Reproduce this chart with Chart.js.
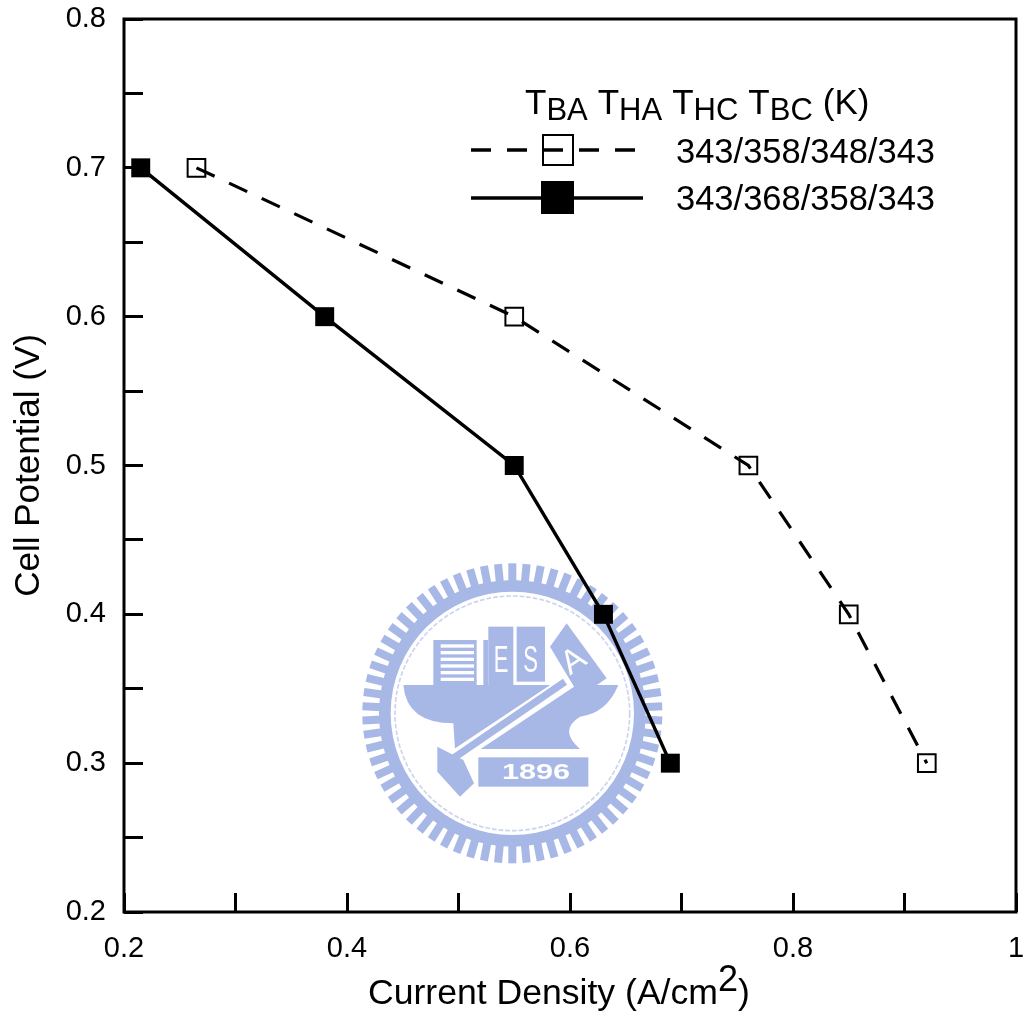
<!DOCTYPE html>
<html>
<head>
<meta charset="utf-8">
<style>
  html, body { margin: 0; padding: 0; background: #fff; }
  canvas { display: block; }
</style>
<script src="https://cdn.jsdelivr.net/npm/chart.js@4/dist/chart.umd.min.js"></script>
</head>
<body>
<canvas id="chart" width="1023" height="1014"></canvas>
<script>
// values
var openX = [0.265, 0.55, 0.76, 0.85, 0.92];
var openY = [0.7, 0.6, 0.5, 0.4, 0.3];
var filledX = [0.215, 0.38, 0.55, 0.63, 0.69];
var filledY = [0.7, 0.6, 0.5, 0.4, 0.3];
var openLabel = '343/358/348/343';
var filledLabel = '343/368/358/343';
var yTitle = 'Cell Potential (V)';

var FONT = '"Liberation Sans", Arial, sans-serif';
var BLUE = '#a8b8e6';
var PLOT_RIGHT = 1016;

function pairs(xs, ys) {
  return xs.map(function(x, i) { return { x: x, y: ys[i] }; });
}

// pieces of text on one baseline; dy shifts sub/superscripts
function drawRuns(ctx, x, y, runs) {
  ctx.textAlign = 'left';
  ctx.textBaseline = 'alphabetic';
  runs.forEach(function(r) {
    ctx.font = r.size + 'px ' + FONT;
    ctx.fillText(r.text, x, y + (r.dy || 0));
    x += ctx.measureText(r.text).width + (r.gap || 0);
  });
}

// text squeezed or stretched sideways, for the seal lettering
function wideText(ctx, text, x, y, sx) {
  ctx.save();
  ctx.translate(x, y);
  ctx.scale(sx, 1);
  ctx.fillText(text, 0, 0);
  ctx.restore();
}

// no label overhang: the plot box is placed by hand
function noPadding() {
  return { left: 0, top: 0, right: 0, bottom: 0 };
}

// layout keeps a margin on the right for the "1" label; the reference runs closer to the edge
var stretchRight = {
  id: 'stretchRight',
  afterLayout: function(chart) {
    var x = chart.scales.x;
    chart.chartArea.right = PLOT_RIGHT;
    chart.chartArea.width = PLOT_RIGHT - chart.chartArea.left;
    x.right = PLOT_RIGHT;
    x.width = PLOT_RIGHT - x.left;
    x.configure();
  }
};

// the faint seal behind the curves, drawn in its own 3x coordinates
var seal = {
  id: 'seal',
  beforeDatasetsDraw: function(chart) {
    var c = chart.ctx, i, a;
    c.save();
    c.translate(350, 550);
    c.scale(1 / 3, 1 / 3);
    c.fillStyle = BLUE;
    c.strokeStyle = BLUE;
    // teeth
    for (i = 0; i < 66; i++) {
      a = i * Math.PI * 2 / 66;
      c.save();
      c.translate(487, 490);
      c.rotate(a);
      c.fillRect(-12, -450, 24, 60);
      c.restore();
    }
    c.beginPath(); c.arc(487, 490, 400, 0, Math.PI * 2); c.fill();
    c.fillStyle = '#fff';
    c.beginPath(); c.arc(487, 490, 365, 0, Math.PI * 2); c.fill();
    c.lineWidth = 5;
    c.setLineDash([14, 6]);
    c.globalAlpha = 0.6;
    c.beginPath(); c.arc(487, 490, 352, 0, Math.PI * 2); c.stroke();
    c.globalAlpha = 1;
    c.setLineDash([]);

    c.fillStyle = BLUE;
    // anvil
    c.beginPath();
    c.moveTo(160, 405); c.lineTo(805, 405);
    c.quadraticCurveTo(770, 490, 690, 500);
    c.quadraticCurveTo(625, 540, 690, 597);
    c.lineTo(315, 597); c.lineTo(310, 520);
    c.quadraticCurveTo(170, 520, 160, 405);
    c.fill();
    // buildings
    c.fillRect(250, 270, 130, 135);
    c.fillRect(400, 270, 15, 135);
    c.fillRect(415, 230, 75, 175);
    c.fillRect(500, 230, 85, 165);
    c.beginPath();
    c.moveTo(650, 220); c.lineTo(770, 385); c.lineTo(690, 440); c.lineTo(600, 290);
    c.fill();
    c.fillStyle = '#fff';
    for (i = 0; i < 6; i++) c.fillRect(272, 283 + i * 20, 100, 10);
    c.font = '110px ' + FONT;
    c.textAlign = 'center';
    c.textBaseline = 'middle';
    wideText(c, 'E', 453, 335, 0.6);
    wideText(c, 'S', 542, 335, 0.6);
    c.save();
    c.translate(672, 335);
    c.rotate(-0.6);
    c.font = '100px ' + FONT;
    c.fillText('A', 0, 0);
    c.restore();
    // hammer handle: white strip with a blue core
    c.lineCap = 'butt';
    c.strokeStyle = '#fff';
    c.lineWidth = 44;
    c.beginPath(); c.moveTo(310, 625); c.lineTo(660, 392); c.stroke();
    c.strokeStyle = BLUE;
    c.lineWidth = 22;
    c.beginPath(); c.moveTo(310, 625); c.lineTo(645, 395); c.stroke();
    // hammer head
    c.fillStyle = BLUE;
    c.beginPath();
    c.moveTo(262, 590); c.lineTo(340, 630); c.lineTo(372, 700); c.lineTo(330, 740);
    c.lineTo(262, 665);
    c.fill();
    // year banner
    c.fillRect(385, 622, 330, 88);
    c.fillStyle = '#fff';
    c.font = 'bold 68px ' + FONT;
    wideText(c, '1896', 558, 667, 1.35);
    c.restore();
  }
};

// box, legend and the texts that need sub/superscripts
var annotations = {
  id: 'annotations',
  afterDatasetsDraw: function(chart) {
    var c = chart.ctx, area = chart.chartArea;
    c.save();
    c.fillStyle = '#000';
    c.strokeStyle = '#000';
    c.lineWidth = 3;
    c.strokeRect(area.left, area.top, area.right - area.left, area.bottom - area.top);

    // x axis title
    drawRuns(c, 368, 1004, [
      { text: 'Current Density (A/cm', size: 35.6 },
      { text: '2', size: 36, dy: -13 },
      { text: ')', size: 35.6 }
    ]);

    // legend header
    drawRuns(c, 525, 114, [
      { text: 'T', size: 35 }, { text: 'BA', size: 31, dy: 6, gap: 10 },
      { text: 'T', size: 35 }, { text: 'HA', size: 31, dy: 6, gap: 10 },
      { text: 'T', size: 35 }, { text: 'HC', size: 31, dy: 6, gap: 10 },
      { text: 'T', size: 35 }, { text: 'BC', size: 31, dy: 6, gap: 10 },
      { text: '(K)', size: 35 }
    ]);

    // legend rows
    c.lineWidth = 3.4;
    c.setLineDash([20, 16]);
    c.beginPath(); c.moveTo(471, 150); c.lineTo(640, 150); c.stroke();
    c.setLineDash([]);
    c.lineWidth = 2;
    c.strokeRect(543, 135, 30, 30);
    c.lineWidth = 3.4;
    c.beginPath(); c.moveTo(471, 198); c.lineTo(643, 198); c.stroke();
    c.fillRect(541, 181, 33, 33);
    c.font = '34.5px ' + FONT;
    c.textAlign = 'left';
    c.textBaseline = 'alphabetic';
    c.fillText(openLabel, 676, 163);
    c.fillText(filledLabel, 676, 210);
    c.restore();
  }
};

new Chart(document.getElementById('chart'), {
  type: 'scatter',
  data: {
    datasets: [
      {
        data: pairs(openX, openY),
        showLine: true,
        borderColor: '#000',
        borderWidth: 3.2,
        borderDash: [20, 16],
        pointStyle: 'rect',
        pointRadius: 12.5,
        pointBackgroundColor: 'rgba(255,255,255,0)',
        pointBorderColor: '#000',
        pointBorderWidth: 2
      },
      {
        data: pairs(filledX, filledY),
        showLine: true,
        borderColor: '#000',
        borderWidth: 3.4,
        pointStyle: 'rect',
        pointRadius: 13.4,
        pointBackgroundColor: '#000',
        pointBorderColor: '#000',
        pointBorderWidth: 0
      }
    ]
  },
  options: {
    responsive: false,
    animation: false,
    layout: { padding: { left: 0, right: 7, top: 19, bottom: 0 } },
    plugins: { legend: { display: false }, tooltip: { enabled: false } },
    scales: {
      x: {
        type: 'linear',
        min: 0.2,
        max: 1,
        afterFit: function(scale) {
          scale.height = 102;
          scale.getPadding = noPadding;
        },
        afterBuildTicks: function(scale) {
          scale.ticks = [0.2, 0.3, 0.4, 0.5, 0.6, 0.7, 0.8, 0.9, 1].map(function(v) { return { value: v }; });
        },
        border: { display: false },
        grid: { drawOnChartArea: false, color: '#000', lineWidth: 3, tickLength: -19, tickColor: '#000' },
        ticks: {
          color: '#000',
          font: { family: FONT, size: 29 },
          padding: 39,
          maxRotation: 0,
          autoSkip: false,
          callback: function(v) {
            var n = Math.round(v * 10);
            return n % 2 === 0 ? (n === 10 ? '1' : (n / 10).toFixed(1)) : '';
          }
        }
      },
      y: {
        type: 'linear',
        min: 0.2,
        max: 0.8,
        afterFit: function(scale) {
          scale.width = 124;
          scale.getPadding = noPadding;
        },
        afterBuildTicks: function(scale) {
          var list = [];
          for (var i = 0; i <= 12; i++) list.push({ value: 0.2 + i * 0.05 });
          scale.ticks = list;
        },
        border: { display: false },
        grid: { drawOnChartArea: false, color: '#000', lineWidth: 3, tickLength: -19, tickColor: '#000' },
        ticks: {
          color: '#000',
          font: { family: FONT, size: 29 },
          padding: 37,
          autoSkip: false,
          callback: function(v) {
            var n = Math.round(v * 20);
            return n % 2 === 0 ? (n / 20).toFixed(1) : '';
          }
        },
        title: {
          display: true,
          text: yTitle,
          color: '#000',
          font: { family: FONT, size: 35, weight: 'normal' },
          padding: { top: 8, bottom: 0 }
        }
      }
    }
  },
  plugins: [stretchRight, seal, annotations]
});
</script>
</body>
</html>
